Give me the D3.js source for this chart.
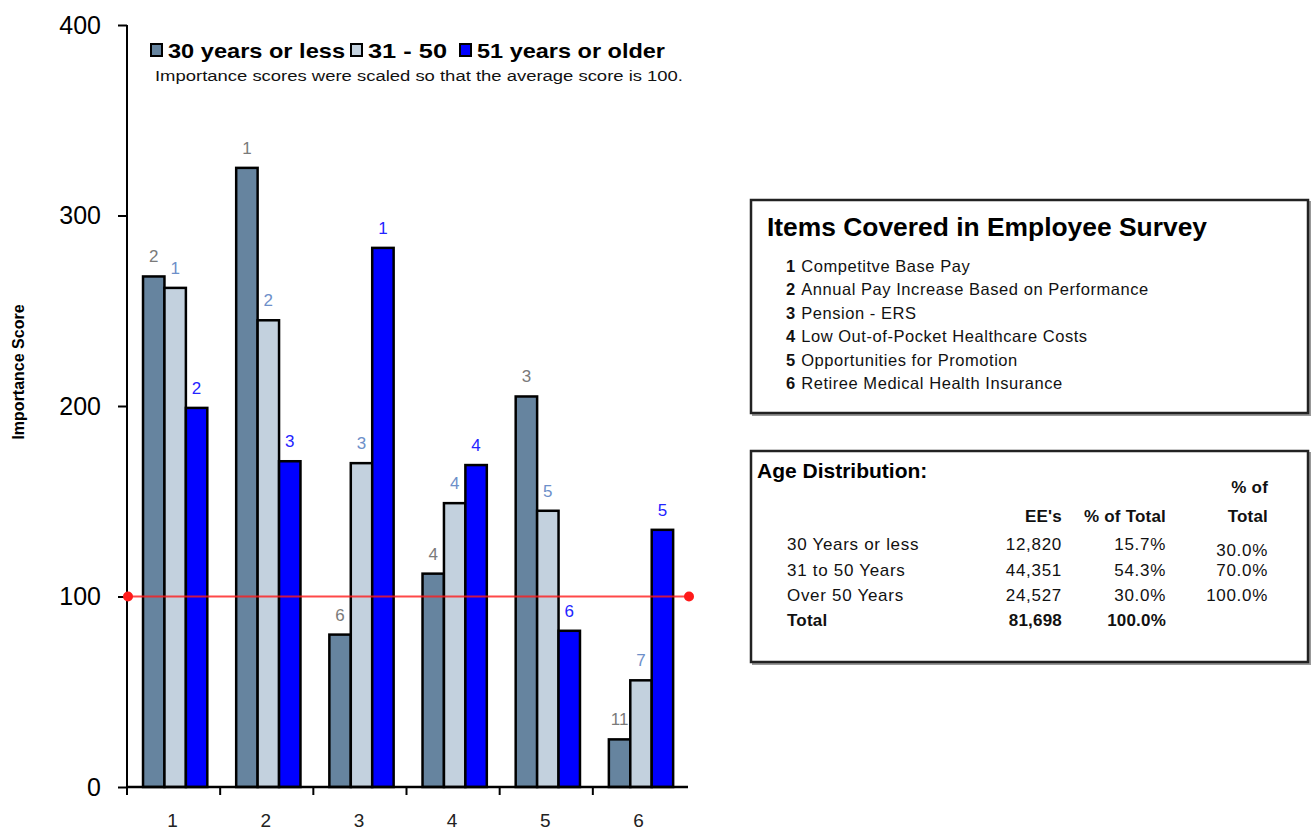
<!DOCTYPE html>
<html>
<head>
<meta charset="utf-8">
<script src="https://cdn.jsdelivr.net/npm/d3@7/dist/d3.min.js"></script>
<style>
  html, body { margin: 0; padding: 0; background: #fff; }
  svg { display: block; font-family: "Liberation Sans", Arial, sans-serif; }
</style>
</head>
<body>
<svg id="chart" width="1313" height="831"></svg>
<script>
// ---- data ----
const categories = ["1", "2", "3", "4", "5", "6"];
const seriesNames = ["30 years or less", "31 - 50", "51 years or older"];
const scoresUnder30 = [268, 325, 80, 112, 205, 25];
const scores31to50 = [262, 245, 170, 149, 145, 56];
const scoresOver50 = [199, 171, 283, 169, 82, 135];
const ranksUnder30 = [2, 1, 6, 4, 3, 11];
const ranks31to50 = [1, 2, 3, 4, 5, 7];
const ranksOver50 = [2, 3, 1, 4, 6, 5];
const yTicks = [0, 100, 200, 300, 400];
const averageScore = 100;

const surveyItems = [
  "Competitve Base Pay",
  "Annual Pay Increase Based on Performance",
  "Pension - ERS",
  "Low Out-of-Pocket Healthcare Costs",
  "Opportunities for Promotion",
  "Retiree Medical Health Insurance"
];
const ageGroups = ["30 Years or less", "31 to 50 Years", "Over 50 Years"];
const ageCounts = ["12,820", "44,351", "24,527"];
const agePercents = ["15.7%", "54.3%", "30.0%"];
const ageCumulative = ["30.0%", "70.0%", "100.0%"];
const ageTotal = ["81,698", "100.0%"];

// ---- styling ----
const barColors = ["#66849f", "#c3d1de", "#0000ff"];
const rankColors = ["#7a7a7a", "#6d8fc9", "#2424ff"];

const svg = d3.select("#chart");

const seriesData = [
  { name: seriesNames[0], values: scoresUnder30, ranks: ranksUnder30 },
  { name: seriesNames[1], values: scores31to50, ranks: ranks31to50 },
  { name: seriesNames[2], values: scoresOver50, ranks: ranksOver50 }
];

// ---- scales ----
const x0 = d3.scaleBand().domain(categories).range([127, 686]).padding(0);
const bw = x0.bandwidth();
const x1 = d3.scaleBand().domain(d3.range(seriesData.length))
  .range([bw * 0.172, bw * 0.862]).padding(0);
const y = d3.scaleLinear().domain([0, 400]).range([787, 25]);

// title (runs off the top edge of the page)
svg.append("text")
  .attr("x", 612).attr("y", -5)
  .attr("text-anchor", "end")
  .attr("font-size", 24).attr("font-weight", "bold")
  .text("Importance Ranking");

// ---- bars ----
const groups = svg.append("g").selectAll("g")
  .data(categories)
  .join("g")
  .attr("transform", d => `translate(${x0(d)},0)`);

const cellData = (c, i) => seriesData.map((s, k) => ({ k, v: s.values[i], r: s.ranks[i] }));

groups.selectAll("rect")
  .data(cellData)
  .join("rect")
  .attr("x", d => x1(d.k))
  .attr("y", d => y(d.v))
  .attr("width", x1.bandwidth())
  .attr("height", d => y(0) - y(d.v))
  .attr("fill", d => barColors[d.k])
  .attr("stroke", "#000")
  .attr("stroke-width", 2.5);

groups.selectAll("text.rank")
  .data(cellData)
  .join("text")
  .attr("class", "rank")
  .attr("x", d => x1(d.k) + x1.bandwidth() / 2)
  .attr("y", d => y(d.v) - 14)
  .attr("text-anchor", "middle")
  .attr("font-size", 17)
  .attr("fill", d => rankColors[d.k])
  .text(d => d.r);

// ---- axes ----
const yAxis = d3.axisLeft(y).tickValues(yTicks).tickSize(9).tickPadding(17);
const gy = svg.append("g").attr("transform", "translate(127,0)").call(yAxis);
gy.select(".domain").attr("stroke", "#000").attr("stroke-width", 2)
  .attr("d", `M0,${y(400)}V${y(0)}`);
gy.selectAll(".tick line").attr("stroke", "#000").attr("stroke-width", 2);
gy.selectAll(".tick text").attr("font-size", 25).attr("fill", "#000")
  .attr("font-family", "Liberation Sans, Arial, sans-serif");

const gx = svg.append("g").attr("transform", `translate(0,${y(0)})`);
gx.append("path").attr("d", `M127,0H${x0.range()[1] + 2}`)
  .attr("stroke", "#000").attr("stroke-width", 2.5);
gx.selectAll("line.tick")
  .data(categories)
  .join("line")
  .attr("class", "tick")
  .attr("x1", d => x0(d)).attr("x2", d => x0(d))
  .attr("y1", 0).attr("y2", 8)
  .attr("stroke", "#000").attr("stroke-width", 2);
gx.selectAll("text")
  .data(categories)
  .join("text")
  .attr("x", d => x0(d) + bw / 2 - 1)
  .attr("y", 40)
  .attr("text-anchor", "middle")
  .attr("font-size", 19)
  .attr("fill", "#222")
  .text(d => d);

// y-axis title
svg.append("text")
  .attr("transform", "translate(24,372) rotate(-90)")
  .attr("text-anchor", "middle")
  .attr("font-size", 16).attr("font-weight", "bold")
  .text("Importance Score");

// ---- average reference line ----
const avgY = y(averageScore);
svg.append("line")
  .attr("x1", 128).attr("x2", 689)
  .attr("y1", avgY).attr("y2", avgY)
  .attr("stroke", "#ff1a1a").attr("stroke-opacity", 0.8).attr("stroke-width", 2);
svg.selectAll("circle.avg")
  .data([128, 689])
  .join("circle")
  .attr("class", "avg")
  .attr("cx", d => d).attr("cy", avgY).attr("r", 5)
  .attr("fill", "#ff1a1a");

// ---- legend ----
const legendX = [151, 351, 460];
const legendW = [177, 79, 188];
const legend = svg.append("g");
seriesData.forEach((s, k) => {
  legend.append("rect")
    .attr("x", legendX[k]).attr("y", 44).attr("width", 11).attr("height", 12)
    .attr("fill", barColors[k]).attr("stroke", "#000").attr("stroke-width", 2);
  legend.append("text")
    .attr("x", legendX[k] + 17).attr("y", 57.5)
    .attr("font-size", 21).attr("font-weight", "bold")
    .attr("textLength", legendW[k]).attr("lengthAdjust", "spacingAndGlyphs")
    .text(s.name);
});
svg.append("text")
  .attr("x", 155).attr("y", 81)
  .attr("font-size", 15.5)
  .attr("textLength", 528).attr("lengthAdjust", "spacingAndGlyphs")
  .attr("fill", "#111")
  .text("Importance scores were scaled so that the average score is 100.");

// ---- info boxes ----
function box(x, yTop, w, h) {
  svg.append("rect").attr("x", x + 2).attr("y", yTop + 2).attr("width", w).attr("height", h)
    .attr("fill", "none").attr("stroke", "#999").attr("stroke-width", 2);
  svg.append("rect").attr("x", x).attr("y", yTop).attr("width", w).attr("height", h)
    .attr("fill", "#fff").attr("stroke", "#222").attr("stroke-width", 2.5);
}

box(751, 200, 557, 213);
svg.append("text")
  .attr("x", 767).attr("y", 236)
  .attr("font-size", 25).attr("font-weight", "bold")
  .attr("textLength", 440).attr("lengthAdjust", "spacingAndGlyphs")
  .text("Items Covered in Employee Survey");
surveyItems.forEach((item, i) => {
  const t = svg.append("text")
    .attr("x", 786).attr("y", 272 + i * 23.4)
    .attr("font-size", 16.5).attr("fill", "#111");
  t.append("tspan").attr("font-weight", "bold").text(i + 1);
  t.append("tspan").attr("dx", 6).attr("letter-spacing", 0.55).text(item);
});

box(751, 451, 557, 211);
svg.append("text")
  .attr("x", 757).attr("y", 478)
  .attr("font-size", 21).attr("font-weight", "bold")
  .text("Age Distribution:");

const colRight = [1062, 1166, 1268];
function cell(txt, xx, yy, bold, anchor) {
  svg.append("text")
    .attr("x", xx).attr("y", yy)
    .attr("text-anchor", anchor || "end")
    .attr("font-size", 17)
    .attr("font-weight", bold ? "bold" : "normal")
    .attr("letter-spacing", bold ? 0.2 : 0.7)
    .attr("fill", "#111")
    .text(txt);
}
cell("% of", colRight[2], 493, true);
cell("EE's", colRight[0], 522, true);
cell("% of Total", colRight[1], 522, true);
cell("Total", colRight[2], 522, true);

ageGroups.forEach((g, i) => {
  const yy = 550 + i * 25.5;
  cell(g, 787, yy, false, "start");
  cell(ageCounts[i], colRight[0], yy, false);
  cell(agePercents[i], colRight[1], yy, false);
  cell(ageCumulative[i], colRight[2], yy + (i === 0 ? 6 : 0), false);
});
cell("Total", 787, 626, true, "start");
cell(ageTotal[0], colRight[0], 626, true);
cell(ageTotal[1], colRight[1], 626, true);
</script>
</body>
</html>
